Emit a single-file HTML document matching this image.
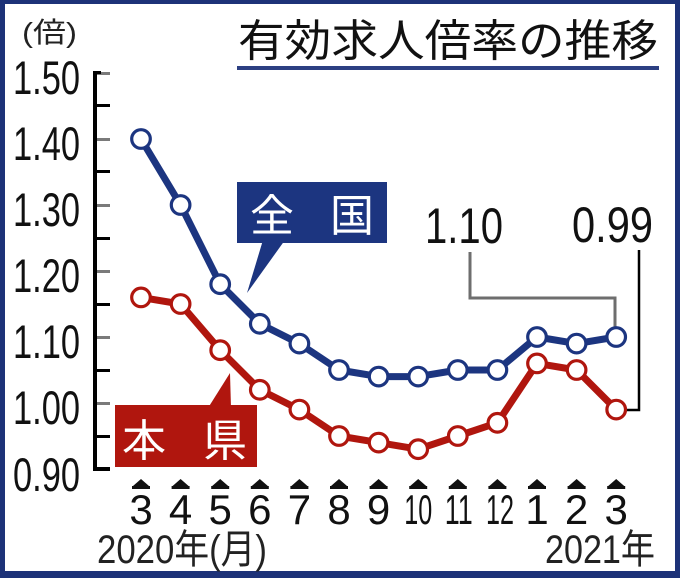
<!DOCTYPE html>
<html><head><meta charset="utf-8">
<style>
html,body{margin:0;padding:0;background:#fff;}
svg{display:block;}
text{font-family:"Liberation Sans","Noto Sans CJK JP",sans-serif;}
.cjk{font-family:"Noto Sans CJK JP","Liberation Sans",sans-serif;}
</style></head>
<body>
<svg width="680" height="578" viewBox="0 0 680 578" xmlns="http://www.w3.org/2000/svg">
<rect x="0" y="0" width="680" height="578" fill="#fff"/>
<!-- frame -->
<rect x="0" y="0" width="680" height="4" fill="#1d3278"/>
<rect x="0" y="0" width="5" height="578" fill="#1d3278"/>
<rect x="675" y="0" width="5" height="578" fill="#1d3278"/>
<rect x="0" y="571" width="680" height="7" fill="#1d3278"/>

<!-- title -->
<text class="cjk" x="238" y="56" font-size="44" fill="#111" textLength="420" lengthAdjust="spacingAndGlyphs">有効求人倍率の推移</text>
<rect x="237" y="66" width="422" height="4" fill="#2c3f82"/>

<!-- unit -->
<text x="22" y="42" font-size="28" fill="#222" textLength="55" lengthAdjust="spacingAndGlyphs">(倍)</text>

<!-- y axis -->
<rect x="93" y="71" width="4" height="400" fill="#000"/>
<g fill="#7a7a7a">
<rect x="97" y="72" width="13" height="3"/>
<rect x="97" y="138" width="13" height="3"/>
<rect x="97" y="204" width="13" height="3"/>
<rect x="97" y="270" width="13" height="3"/>
<rect x="97" y="336" width="13" height="3"/>
<rect x="97" y="402" width="13" height="3"/>
</g>
<g fill="#000">
<rect x="93" y="71" width="8" height="3"/>
<rect x="97" y="104" width="13" height="3"/>
<rect x="97" y="170" width="13" height="3"/>
<rect x="97" y="237" width="13" height="3"/>
<rect x="97" y="303" width="13" height="3"/>
<rect x="97" y="369" width="13" height="3"/>
<rect x="97" y="435" width="13" height="3"/>
<rect x="93" y="467" width="17" height="4"/>
</g>
<g font-size="47" fill="#111" text-anchor="end">
<text x="80" y="94" textLength="67" lengthAdjust="spacingAndGlyphs">1.50</text>
<text x="80" y="160" textLength="67" lengthAdjust="spacingAndGlyphs">1.40</text>
<text x="80" y="226" textLength="67" lengthAdjust="spacingAndGlyphs">1.30</text>
<text x="80" y="292" textLength="67" lengthAdjust="spacingAndGlyphs">1.20</text>
<text x="80" y="358" textLength="67" lengthAdjust="spacingAndGlyphs">1.10</text>
<text x="80" y="424" textLength="67" lengthAdjust="spacingAndGlyphs">1.00</text>
<text x="80" y="491" textLength="67" lengthAdjust="spacingAndGlyphs">0.90</text>
</g>

<!-- leader lines -->
<polyline points="470,252 470,298 615,298 615,328" fill="none" stroke="#6e6e6e" stroke-width="3"/>
<polyline points="639,250 639,410 625,410" fill="none" stroke="#000" stroke-width="2.5"/>

<!-- callouts -->
<polygon points="263,240 285,240 247,293" fill="#1c3580"/>
<rect x="237" y="182" width="150" height="61" fill="#1c3580"/>
<text class="cjk" x="250" y="231" font-size="44" fill="#fff">全</text>
<text class="cjk" x="330" y="231" font-size="44" fill="#fff">国</text>

<polygon points="208,408 231,408 230,373" fill="#b0160e"/>
<rect x="115" y="405" width="142" height="62" fill="#b0160e"/>
<text class="cjk" x="122" y="456" font-size="44" fill="#fff">本</text>
<text class="cjk" x="203" y="456" font-size="44" fill="#fff">県</text>

<!-- value labels -->
<text x="425" y="243" font-size="50" fill="#111" textLength="78" lengthAdjust="spacingAndGlyphs">1.10</text>
<text x="572" y="242" font-size="50" fill="#111" textLength="81" lengthAdjust="spacingAndGlyphs">0.99</text>

<!-- series lines -->
<polyline fill="none" stroke="#1c3580" stroke-width="7" stroke-linejoin="round"
 points="141,139 180.6,205 220.2,284.2 259.8,323.8 299.4,343.6 339,370 378.6,376.6 418.2,376.6 457.8,370 497.4,370 537,337 576.6,343.6 616.2,337"/>
<polyline fill="none" stroke="#b0160e" stroke-width="7" stroke-linejoin="round"
 points="141,297.4 180.6,304 220.2,350.2 259.8,389.8 299.4,409.6 339,436 378.6,442.6 418.2,449.2 457.8,436 497.4,422.8 537,363.4 576.6,370 616.2,409.6"/>

<g fill="#fff" stroke="#1c3580" stroke-width="3.2">
<circle cx="141" cy="139" r="9.3"/>
<circle cx="180.6" cy="205" r="9.3"/>
<circle cx="220.2" cy="284.2" r="9.3"/>
<circle cx="259.8" cy="323.8" r="9.3"/>
<circle cx="299.4" cy="343.6" r="9.3"/>
<circle cx="339" cy="370" r="9.3"/>
<circle cx="378.6" cy="376.6" r="9.3"/>
<circle cx="418.2" cy="376.6" r="9.3"/>
<circle cx="457.8" cy="370" r="9.3"/>
<circle cx="497.4" cy="370" r="9.3"/>
<circle cx="537" cy="337" r="9.3"/>
<circle cx="576.6" cy="343.6" r="9.3"/>
<circle cx="616.2" cy="337" r="9.3"/>
</g>
<g fill="#fff" stroke="#b0160e" stroke-width="3.2">
<circle cx="141" cy="297.4" r="9.3"/>
<circle cx="180.6" cy="304" r="9.3"/>
<circle cx="220.2" cy="350.2" r="9.3"/>
<circle cx="259.8" cy="389.8" r="9.3"/>
<circle cx="299.4" cy="409.6" r="9.3"/>
<circle cx="339" cy="436" r="9.3"/>
<circle cx="378.6" cy="442.6" r="9.3"/>
<circle cx="418.2" cy="449.2" r="9.3"/>
<circle cx="457.8" cy="436" r="9.3"/>
<circle cx="497.4" cy="422.8" r="9.3"/>
<circle cx="537" cy="363.4" r="9.3"/>
<circle cx="576.6" cy="370" r="9.3"/>
<circle cx="616.2" cy="409.6" r="9.3"/>
</g>

<!-- month markers -->
<g fill="#111">
<path d="M141,479 L149,486 L133,486 Z M132,486 h18 v3 h-18 Z"/>
<path d="M180.6,479 L188.6,486 L172.6,486 Z M171.6,486 h18 v3 h-18 Z"/>
<path d="M220.2,479 L228.2,486 L212.2,486 Z M211.2,486 h18 v3 h-18 Z"/>
<path d="M259.8,479 L267.8,486 L251.8,486 Z M250.8,486 h18 v3 h-18 Z"/>
<path d="M299.4,479 L307.4,486 L291.4,486 Z M290.4,486 h18 v3 h-18 Z"/>
<path d="M339,479 L347,486 L331,486 Z M330,486 h18 v3 h-18 Z"/>
<path d="M378.6,479 L386.6,486 L370.6,486 Z M369.6,486 h18 v3 h-18 Z"/>
<path d="M418.2,479 L426.2,486 L410.2,486 Z M409.2,486 h18 v3 h-18 Z"/>
<path d="M457.8,479 L465.8,486 L449.8,486 Z M448.8,486 h18 v3 h-18 Z"/>
<path d="M497.4,479 L505.4,486 L489.4,486 Z M488.4,486 h18 v3 h-18 Z"/>
<path d="M537,479 L545,486 L529,486 Z M528,486 h18 v3 h-18 Z"/>
<path d="M576.6,479 L584.6,486 L568.6,486 Z M567.6,486 h18 v3 h-18 Z"/>
<path d="M616.2,479 L624.2,486 L608.2,486 Z M607.2,486 h18 v3 h-18 Z"/>
</g>
<g font-size="42" fill="#111" text-anchor="middle">
<text x="141" y="524">3</text>
<text x="180.6" y="524">4</text>
<text x="220.2" y="524">5</text>
<text x="259.8" y="524">6</text>
<text x="299.4" y="524">7</text>
<text x="339" y="524">8</text>
<text x="378.6" y="524">9</text>
<text x="418.2" y="524" textLength="28" lengthAdjust="spacingAndGlyphs">10</text>
<text x="458.8" y="524" textLength="28" lengthAdjust="spacingAndGlyphs">11</text>
<text x="500" y="524" textLength="28" lengthAdjust="spacingAndGlyphs">12</text>
<text x="537" y="524">1</text>
<text x="576.6" y="524">2</text>
<text x="616.2" y="524">3</text>
</g>

<text x="97" y="563" font-size="40" fill="#222" textLength="170" lengthAdjust="spacingAndGlyphs">2020年(月)</text>
<text x="545" y="563" font-size="40" fill="#222" textLength="110" lengthAdjust="spacingAndGlyphs">2021年</text>
</svg>
</body></html>
